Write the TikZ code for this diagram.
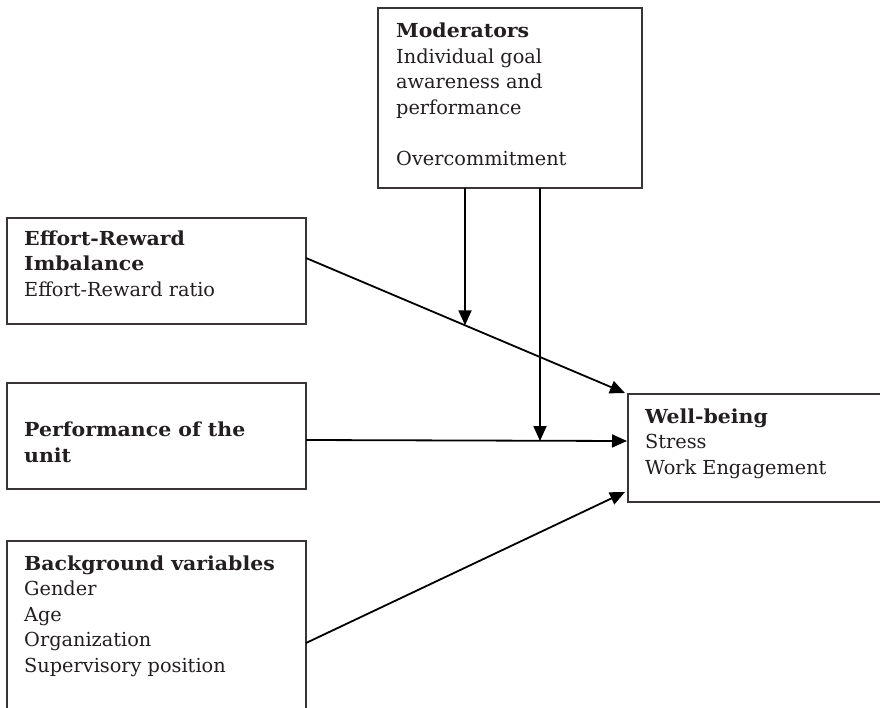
\documentclass[tikz,border=0pt]{standalone}
\usepackage{fontspec}
\setmainfont{DejaVu Serif}[BoldFeatures={FakeStretch=1.06}]
\usetikzlibrary{arrows.meta,calc}
\definecolor{ink}{HTML}{231F20}
\begin{document}
\begin{tikzpicture}[x=1pt,y=-1pt,
  box/.style={draw=ink!90,line width=1.8pt,rectangle,inner sep=0pt,outer sep=0pt,anchor=north west},
  txt/.style={anchor=base west,inner sep=0pt,align=left,text=ink,font=\fontsize{19.3}{25.5}\selectfont},
  arr/.style={draw=black,line width=1.8pt,-{Triangle[length=15pt,width=13pt]}},
  ln/.style={draw=black,line width=1.8pt}]
\useasboundingbox (0,0) rectangle (880,707);
\clip (0,0) rectangle (880,707);
\fill[white] (0,0) rectangle (880,707);
% boxes
\node[box,minimum width=264pt,minimum height=180pt] (mod) at (378,8) {};
\node[box,minimum width=299pt,minimum height=106pt] (eri) at (7,218) {};
\node[box,minimum width=299pt,minimum height=106pt] (perf) at (7,383) {};
\node[box,minimum width=299pt,minimum height=200pt] (bg) at (7,541) {};
\node[box,minimum width=280pt,minimum height=108pt] (wb) at (628,394) {};
% texts (anchor = baseline of last line)
\node[txt] (modt) at (396,165) {\textbf{Moderators}\\Individual goal\\awareness and\\performance\\[25.5pt]Overcommitment};
\node[txt] (erit) at (24,296) {\textbf{Effort-Reward}\\\textbf{Imbalance}\\Effort-Reward ratio};
\node[txt] (perft) at (24,462) {\textbf{Performance of the}\\\textbf{unit}};
\node[txt] (bgt) at (24,672) {\textbf{Background variables}\\Gender\\Age\\Organization\\Supervisory position};
\node[txt] (wbt) at (645,474) {\textbf{Well-being}\\Stress\\Work Engagement};
% connectors
\coordinate (eriout) at ($(eri.north east)+(0,40)$);
\coordinate (perfout) at ($(perf.north east)+(0,57)$);
\coordinate (bgout) at ($(bg.north east)+(0,102)$);
\coordinate (wbmid) at ($(wb.north west)+(-1,47)$);
\coordinate (wblow) at ($(wb.south west)+(-3,-10)$);
\coordinate (wbtop) at ($(wb.north west)+(-3,-1)$);
\draw[arr] (eriout) -- (wbtop);
\draw[arr] (perfout) -- (wbmid);
\draw[arr] (bgout) -- (wblow);
\coordinate (m1) at ($(mod.south west)+(87,0)$);
\coordinate (m1b) at ($(m1)+(0,300)$);
\coordinate (m2) at ($(mod.south west)+(162,0)$);
\coordinate (hit1) at (intersection of eriout--wbtop and m1--m1b);
\draw[arr] (m1) -- (hit1);
\draw[arr] (m2) -- (m2|-wbmid);
\end{tikzpicture}
\end{document}
